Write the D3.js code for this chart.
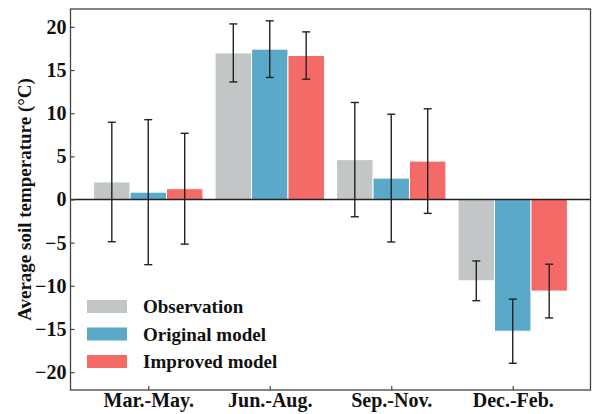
<!DOCTYPE html>
<html>
<head>
<meta charset="utf-8">
<script src="https://cdn.jsdelivr.net/npm/d3@7"></script>
<style>
  html, body { margin: 0; padding: 0; background: #fff; }
  svg { display: block; }
  svg text { font-family: "Liberation Serif", "DejaVu Serif", "Times New Roman", serif !important; font-weight: bold; fill: #111; }
</style>
</head>
<body>
<svg id="chart" width="592" height="414"></svg>
<script>
// Seasonal average soil temperature: observation vs. two model versions
const seasons = ["Mar.-May.", "Jun.-Aug.", "Sep.-Nov.", "Dec.-Feb."];
const seriesNames = ["Observation", "Original model", "Improved model"];
const seriesColors = ["#c2c6c6", "#5ba9c8", "#f36a66"];

const observation   = [2.03, 16.98, 4.62, -9.42];
const originalModel = [0.85, 17.42, 2.48, -15.26];
const improvedModel = [1.25, 16.68, 4.45, -10.61];

const observationErr   = [6.92, 3.36, 6.62, 2.30];
const originalModelErr = [8.40, 3.28, 7.40, 3.72];
const improvedModelErr = [6.42, 2.74, 6.06, 3.11];

const yTicks = [-20, -15, -10, -5, 0, 5, 10, 15, 20];

const values = [observation, originalModel, improvedModel];
const errors = [observationErr, originalModelErr, improvedModelErr];

const svg = d3.select("#chart");
const margin = { left: 70.5, right: 1.5, top: 9, bottom: 24 };
const W = 592, H = 414;
const x0 = margin.left, x1 = W - margin.right;
const yTop = margin.top, yBot = H - margin.bottom;

// Numeric category axis: categories at 0..3, bars offset by 0.3 units
const x = d3.scaleLinear().domain([-0.64, 3.64]).range([x0, x1]);
const y = d3.scaleLinear().domain([-22.07, 22.07]).range([yBot, yTop]);
const barW = 0.3, offset = 0.3;

const g = svg.append("g");

// Bars
values.forEach((vals, si) => {
  g.selectAll(null).data(vals).enter().append("rect")
    .attr("x", (d, i) => x(i + (si - 1) * offset - barW / 2))
    .attr("width", x(barW) - x(0))
    .attr("y", d => y(Math.max(0, d)))
    .attr("height", d => Math.abs(y(d) - y(0)))
    .attr("fill", seriesColors[si])
    .attr("stroke", "#fff")
    .attr("stroke-width", 1);
});

// Zero reference line
g.append("line")
  .attr("x1", x0).attr("x2", x1)
  .attr("y1", y(0)).attr("y2", y(0))
  .attr("stroke", "#222").attr("stroke-width", 1.5);

// Error bars with caps
const cap = 4;
values.forEach((vals, si) => {
  vals.forEach((v, i) => {
    const cx = x(i + (si - 1) * offset);
    const e = errors[si][i];
    const eg = g.append("g").attr("stroke", "#222").attr("stroke-width", 1.4);
    eg.append("line").attr("x1", cx).attr("x2", cx).attr("y1", y(v + e)).attr("y2", y(v - e));
    eg.append("line").attr("x1", cx - cap).attr("x2", cx + cap).attr("y1", y(v + e)).attr("y2", y(v + e));
    eg.append("line").attr("x1", cx - cap).attr("x2", cx + cap).attr("y1", y(v - e)).attr("y2", y(v - e));
  });
});

// Frame
svg.append("rect")
  .attr("x", x0).attr("y", yTop)
  .attr("width", x1 - x0).attr("height", yBot - yTop)
  .attr("fill", "none").attr("stroke", "#444").attr("stroke-width", 1.3);

// Y axis (ticks inward)
const yAxis = svg.append("g")
  .attr("transform", `translate(${x0},0)`)
  .call(d3.axisLeft(y).tickValues(yTicks).tickSize(-4).tickPadding(4).tickFormat(d3.format("d")));
yAxis.select(".domain").remove();
yAxis.attr("font-family", null).attr("font-size", null);
yAxis.selectAll(".tick line").attr("stroke", "#444").attr("stroke-width", 1.2);
yAxis.selectAll(".tick text").attr("font-size", 20).attr("fill", "#111");

// X axis (ticks inward)
const xAxis = svg.append("g")
  .attr("transform", `translate(0,${yBot})`)
  .call(d3.axisBottom(x).tickValues([0, 1, 2, 3]).tickSize(-4).tickPadding(3).tickFormat(i => seasons[i]));
xAxis.select(".domain").remove();
xAxis.attr("font-family", null).attr("font-size", null);
xAxis.selectAll(".tick line").attr("stroke", "#444").attr("stroke-width", 1.2);
xAxis.selectAll(".tick text").attr("font-size", 20).attr("fill", "#111");

// Y axis title
svg.append("text")
  .attr("transform", `translate(31,${(yTop + yBot) / 2}) rotate(-90)`)
  .attr("text-anchor", "middle")
  .attr("font-size", 19)
  .text("Average soil temperature (°C)");

// Legend
const legend = svg.append("g").attr("transform", "translate(87,300)");
seriesNames.forEach((name, i) => {
  const row = legend.append("g").attr("transform", `translate(0,${i * 27.5})`);
  row.append("rect").attr("width", 40).attr("height", 13).attr("fill", seriesColors[i]);
  row.append("text").attr("x", 56).attr("y", 13).attr("font-size", 19).text(name);
});
</script>
</body>
</html>
